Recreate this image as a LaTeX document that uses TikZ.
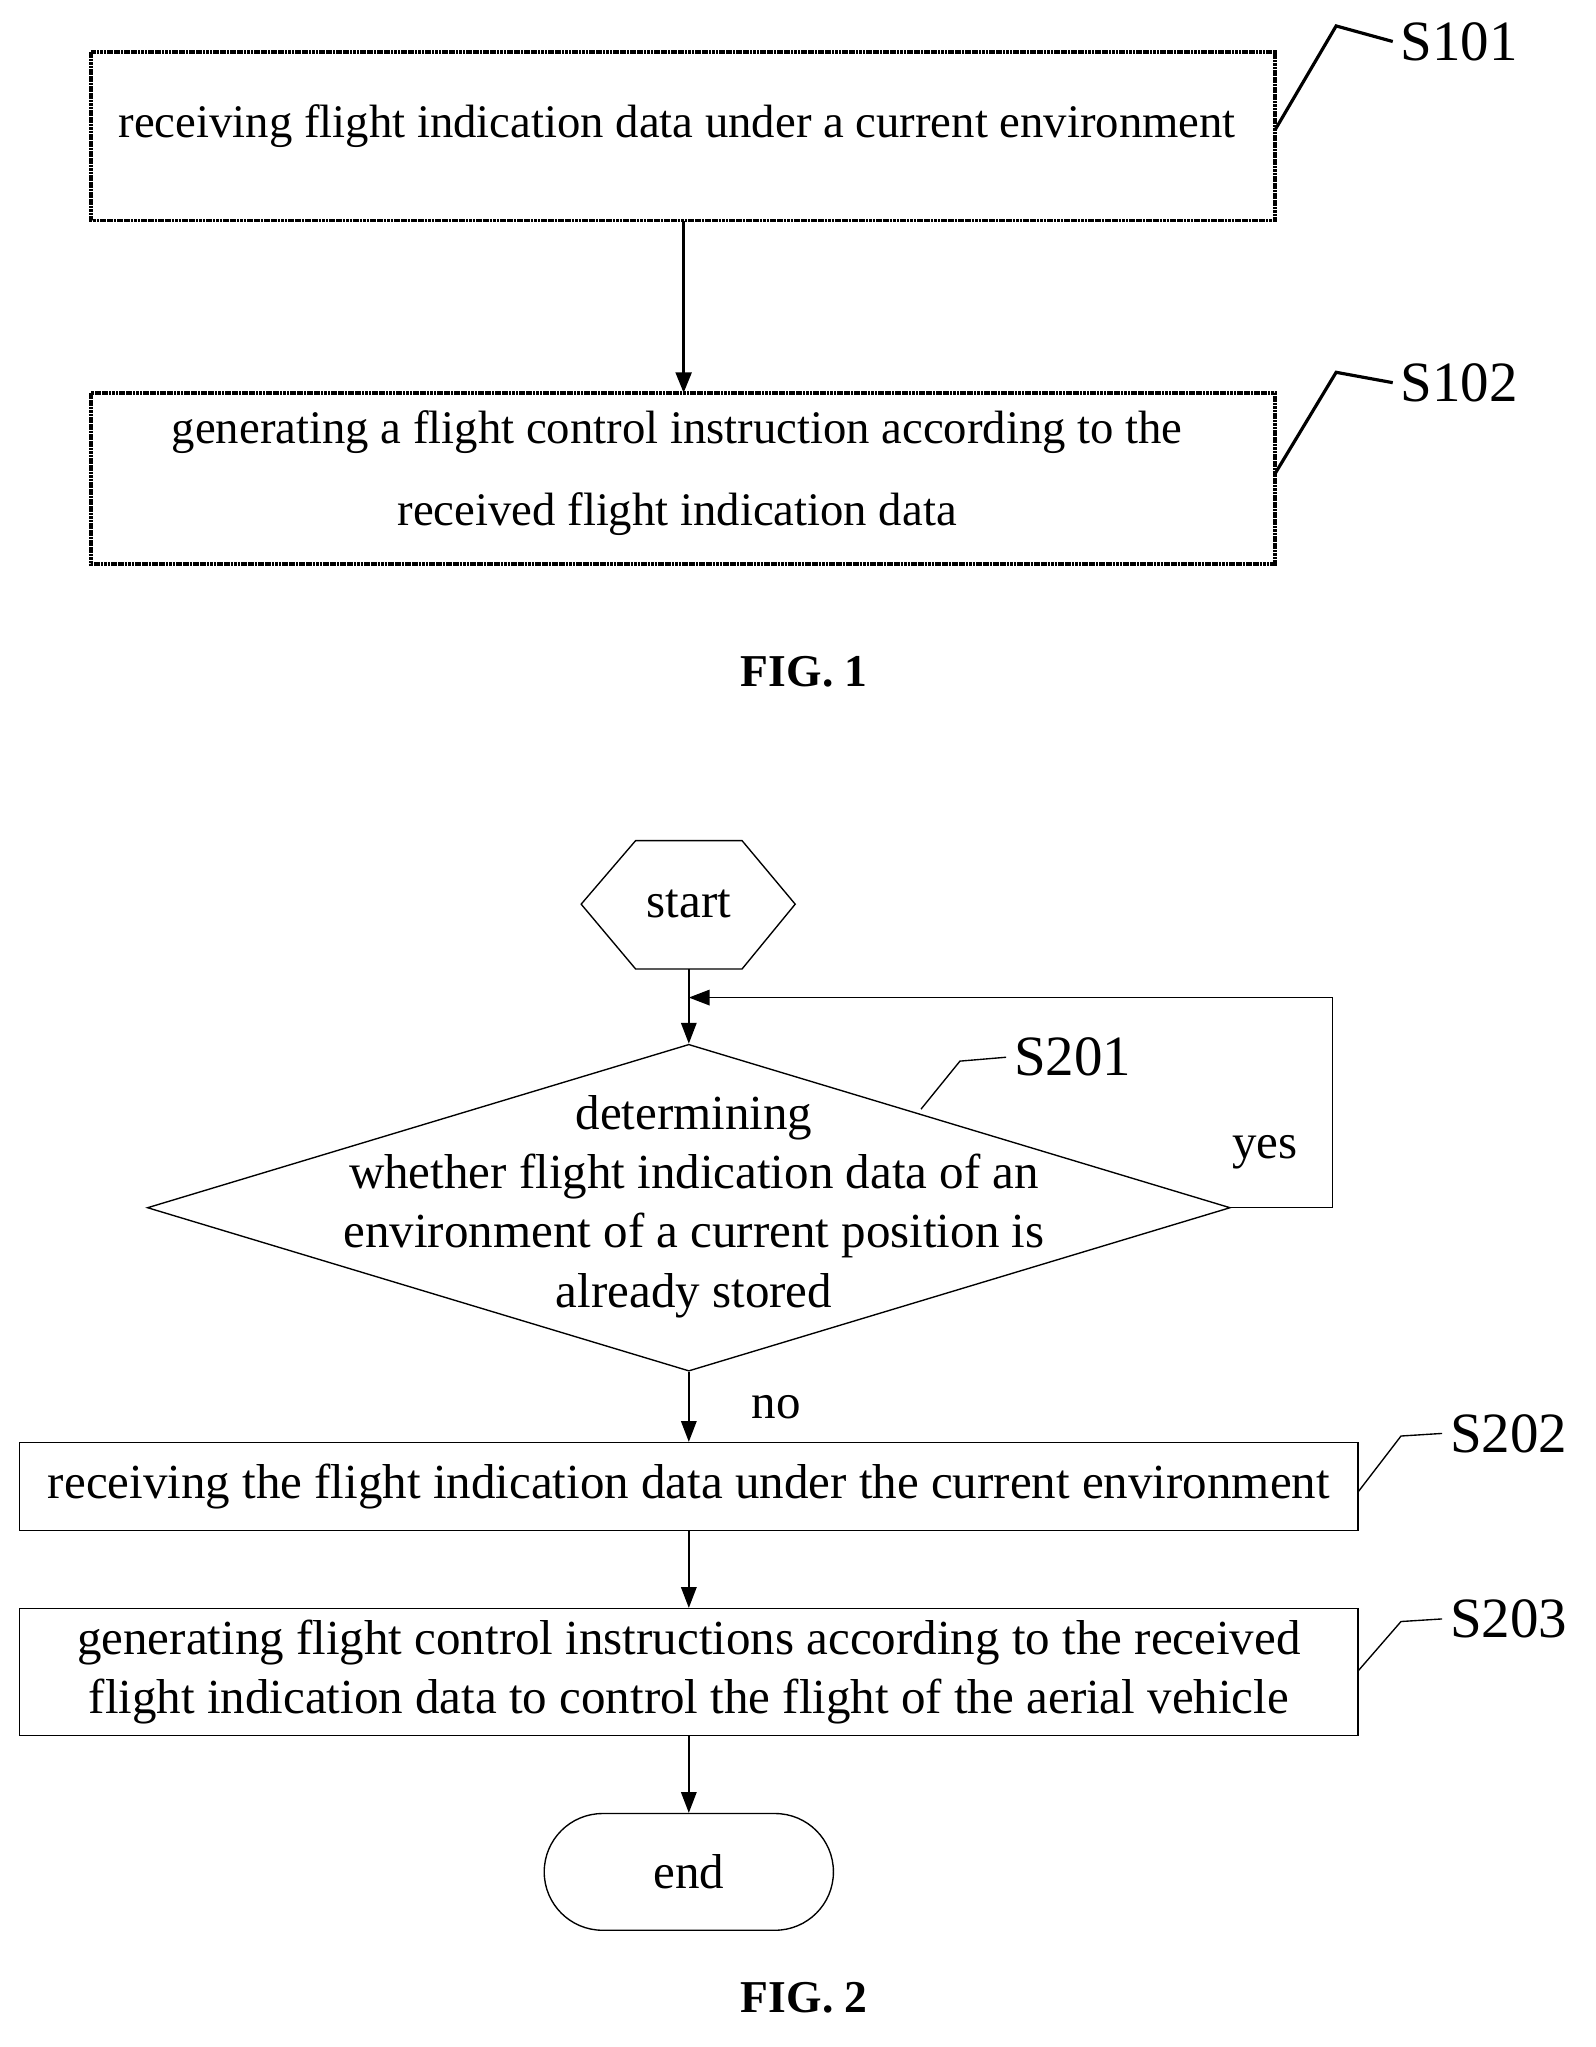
\documentclass[tikz,border=0pt]{standalone}
\usepackage{fontspec}
\setmainfont{Liberation Serif}
\usetikzlibrary{positioning,shapes.geometric,shapes.misc,arrows.meta}
\begin{document}
\begin{tikzpicture}[x=0.02cm,y=-0.02cm,
  >={Triangle[length=3.2mm,width=2.4mm]},
  box/.style={draw,line width=0.6pt},
  oldbox/.style={draw,line width=1.6pt,dash pattern=on 1.2pt off 0.3pt},
  txt/.style={font=\fontsize{21.5}{26}\selectfont,align=center},
  oldtxt/.style={font=\fontsize{20.5}{36}\selectfont,align=center},
  steplbl/.style={font=\fontsize{25}{28}\selectfont},
  fig/.style={font=\fontsize{20}{22}\selectfont\bfseries},
  lead/.style={line width=0.6pt}]
\useasboundingbox (0,0) rectangle (1230,1578);

% FIG. 1
\draw[oldbox] (70,40) rectangle (983,170);
\node[oldtxt] (r1) at (522,97) {receiving flight indication data under a current environment};
\draw[oldbox] (70,303) rectangle (983,435);
\node[oldtxt] (r2) at (522,365) {generating a flight control instruction according to the\\received flight indication data};
\coordinate (b1s) at (527,170);
\coordinate (b2n) at (527,303);
\draw[->,line width=1.6pt] (b1s) -- (b2n);
\node[steplbl] (s101) at (1125,32) {S101};
\node[steplbl] (s102) at (1125,295) {S102};
\draw[lead,line width=1.4pt] (983,100) -- (1030,20) -- (s101.west);
\draw[lead,line width=1.4pt] (983,365) -- (1030,287) -- (s102.west);
\node[fig] (f1) at (620,518) {FIG. 1};

% FIG. 2
\node[txt] (start) at (531,697) {start};
\draw[box] (448,697) -- (490,648) -- (572,648) -- (613,697) -- (572,747) -- (490,747) -- cycle;
\coordinate (startS) at (531,747);
\node[box,diamond,minimum width=16.7cm,minimum height=5.04cm,inner sep=0] (dec) at (531,931) {};
\node[txt] (dtxt) at (535,930) {determining\\whether flight indication data of an\\environment of a current position is\\already stored};
\node[box,minimum width=20.64cm,minimum height=1.36cm,inner sep=0] (s2) at (531,1146) {};
\node[txt] at (s2) {receiving the flight indication data under the current environment};
\node[box,minimum width=20.64cm,minimum height=1.96cm,inner sep=0] (s3) at (531,1289) {};
\node[txt] at (s3) {generating flight control instructions according to the received\\flight indication data to control the flight of the aerial vehicle};
\node[box,rounded rectangle,minimum width=4.46cm,minimum height=1.8cm,inner sep=0] (end) at (531,1443) {};
\node[txt] at (end) {end};
\coordinate (loop) at (1027,769);
\draw[->,box] (startS) -- (dec.north);
\draw[->,box] (dec.east) -- (dec.east -| loop) -- (loop) -- (531,769);
\draw[->,box] (dec.south) -- node[right=24pt,txt] {no} (s2.north);
\draw[->,box] (s2) -- (s3);
\draw[->,box] (s3) -- (end);
\node[txt] at (975,888) {yes};
\node[steplbl] (s201) at (827,815) {S201};
\node[steplbl] (s202) at (1163,1105) {S202};
\node[steplbl] (s203) at (1163,1248) {S203};
\draw[lead] (710,855) -- (740,818) -- (s201.west);
\draw[lead] (1047,1150) -- (1080,1107) -- (s202.west);
\draw[lead] (1047,1288) -- (1080,1250) -- (s203.west);
\node[fig] (f2) at (620,1540) {FIG. 2};
\end{tikzpicture}
\end{document}
